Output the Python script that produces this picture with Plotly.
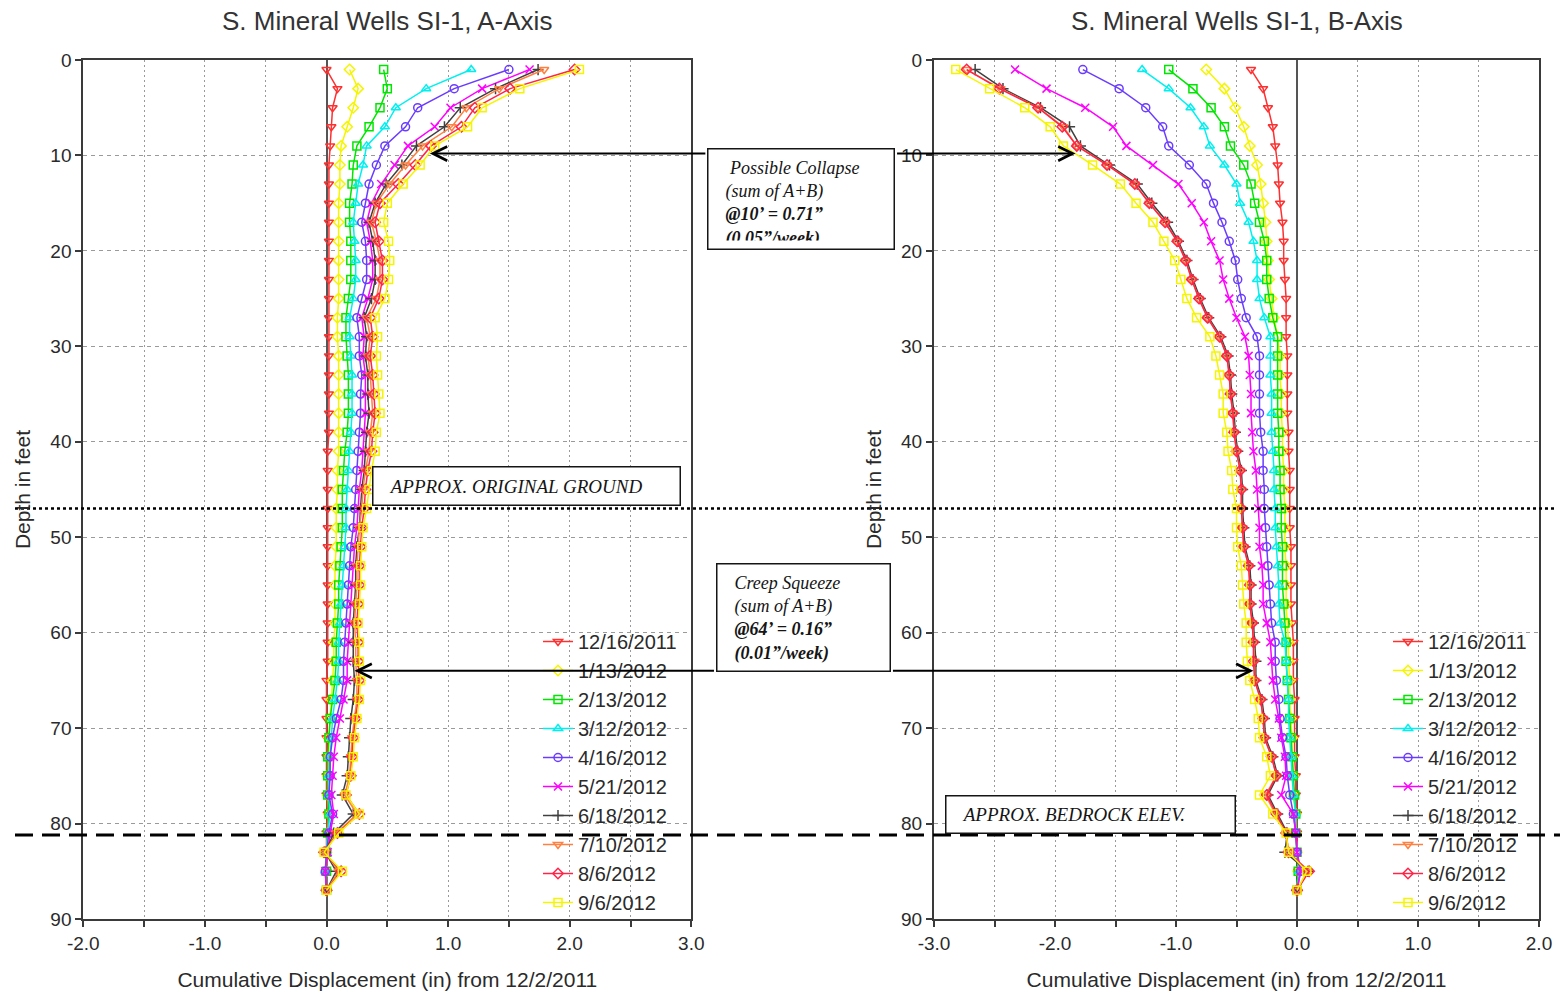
import plotly.graph_objects as go

# ---------------------------------------------------------------------------
# Inclinometer SI-1 (S. Mineral Wells): cumulative displacement vs depth
# ---------------------------------------------------------------------------
DEPTH_FT = [1, 3, 5, 7, 9, 11, 13, 15, 17, 19, 21, 23, 25, 27, 29, 31, 33, 35,
            37, 39, 41, 43, 45, 47, 49, 51, 53, 55, 57, 59, 61, 63, 65, 67, 69,
            71, 73, 75, 77, 79, 81, 83, 85, 87]

SURVEY_DATES = ["12/16/2011", "1/13/2012", "2/13/2012", "3/12/2012", "4/16/2012",
                "5/21/2012", "6/18/2012", "7/10/2012", "8/6/2012", "9/6/2012"]

# A-axis cumulative displacement (in), one list per survey
A_12_16_2011 = [0.00, 0.09, 0.05, 0.04, 0.03, 0.02, 0.02, 0.02, 0.02, 0.02,
                0.02, 0.02, 0.02, 0.02, 0.02, 0.02, 0.02, 0.02, 0.02, 0.02,
                0.01, 0.01, 0.01, 0.01, 0.01, 0.01, 0.01, 0.01, 0.01, 0.01,
                0.01, 0.01, 0.00, 0.00, 0.00, 0.00, 0.00, 0.00, 0.00, 0.01,
                0.00, 0.00, 0.00, 0.00]
A_01_13_2012 = [0.19, 0.26, 0.22, 0.17, 0.12, 0.11, 0.11, 0.10, 0.10, 0.10,
                0.10, 0.10, 0.10, 0.09, 0.09, 0.10, 0.10, 0.10, 0.10, 0.10,
                0.10, 0.09, 0.09, 0.08, 0.08, 0.08, 0.07, 0.07, 0.07, 0.07,
                0.06, 0.06, 0.05, 0.04, 0.03, 0.02, 0.02, 0.01, 0.01, 0.02,
                0.01, 0.00, 0.00, 0.00]
A_02_13_2012 = [0.47, 0.50, 0.44, 0.35, 0.25, 0.22, 0.21, 0.19, 0.19, 0.20,
                0.20, 0.20, 0.18, 0.16, 0.16, 0.17, 0.18, 0.18, 0.18, 0.17,
                0.15, 0.14, 0.13, 0.13, 0.13, 0.12, 0.11, 0.10, 0.10, 0.09,
                0.08, 0.08, 0.07, 0.05, 0.03, 0.02, 0.01, 0.01, 0.01, 0.02,
                0.01, 0.00, 0.00, 0.00]
A_03_12_2012 = [1.19, 0.82, 0.57, 0.48, 0.33, 0.30, 0.26, 0.24, 0.22, 0.23,
                0.24, 0.24, 0.22, 0.19, 0.19, 0.20, 0.21, 0.21, 0.21, 0.20,
                0.19, 0.18, 0.17, 0.16, 0.16, 0.15, 0.14, 0.13, 0.12, 0.11,
                0.10, 0.10, 0.09, 0.07, 0.05, 0.04, 0.03, 0.02, 0.02, 0.03,
                0.01, 0.00, -0.01, 0.00]
A_04_16_2012 = [1.50, 1.05, 0.75, 0.65, 0.48, 0.41, 0.35, 0.32, 0.29, 0.32,
                0.33, 0.33, 0.29, 0.25, 0.27, 0.27, 0.29, 0.28, 0.28, 0.27,
                0.26, 0.25, 0.24, 0.23, 0.22, 0.20, 0.19, 0.18, 0.17, 0.16,
                0.15, 0.14, 0.14, 0.12, 0.08, 0.05, 0.03, 0.03, 0.02, 0.05,
                0.02, 0.00, -0.01, 0.00]
A_05_21_2012 = [1.67, 1.28, 1.02, 0.89, 0.67, 0.56, 0.45, 0.37, 0.33, 0.36,
                0.38, 0.38, 0.34, 0.29, 0.31, 0.30, 0.32, 0.32, 0.32, 0.31,
                0.30, 0.29, 0.27, 0.26, 0.25, 0.23, 0.22, 0.21, 0.20, 0.19,
                0.18, 0.17, 0.17, 0.14, 0.11, 0.08, 0.06, 0.05, 0.04, 0.06,
                0.03, 0.01, -0.01, 0.00]
A_06_18_2012 = [1.74, 1.39, 1.10, 0.97, 0.74, 0.62, 0.49, 0.40, 0.35, 0.38,
                0.40, 0.40, 0.37, 0.31, 0.33, 0.32, 0.34, 0.34, 0.35, 0.33,
                0.32, 0.31, 0.29, 0.28, 0.27, 0.25, 0.24, 0.24, 0.23, 0.22,
                0.22, 0.22, 0.23, 0.22, 0.20, 0.19, 0.18, 0.17, 0.13, 0.22,
                0.06, -0.01, 0.08, 0.00]
A_07_10_2012 = [1.79, 1.42, 1.15, 1.03, 0.79, 0.65, 0.52, 0.41, 0.37, 0.41,
                0.44, 0.44, 0.41, 0.33, 0.36, 0.34, 0.36, 0.37, 0.38, 0.36,
                0.35, 0.32, 0.30, 0.29, 0.27, 0.26, 0.25, 0.25, 0.24, 0.23,
                0.24, 0.24, 0.25, 0.25, 0.23, 0.21, 0.20, 0.19, 0.15, 0.25,
                0.08, -0.01, 0.10, 0.00]
A_08_06_2012 = [2.04, 1.51, 1.22, 1.11, 0.86, 0.73, 0.59, 0.44, 0.40, 0.43,
                0.46, 0.46, 0.43, 0.36, 0.38, 0.36, 0.38, 0.39, 0.40, 0.38,
                0.37, 0.34, 0.32, 0.31, 0.29, 0.28, 0.27, 0.27, 0.26, 0.25,
                0.26, 0.26, 0.27, 0.26, 0.24, 0.22, 0.21, 0.20, 0.16, 0.27,
                0.09, -0.02, 0.12, 0.00]
A_09_06_2012 = [2.08, 1.59, 1.28, 1.16, 0.89, 0.77, 0.63, 0.50, 0.47, 0.51,
                0.52, 0.51, 0.48, 0.40, 0.42, 0.41, 0.42, 0.43, 0.44, 0.41,
                0.40, 0.37, 0.35, 0.33, 0.30, 0.29, 0.28, 0.28, 0.27, 0.26,
                0.27, 0.27, 0.28, 0.27, 0.25, 0.23, 0.22, 0.20, 0.16, 0.27,
                0.10, -0.02, 0.13, 0.00]

# B-axis cumulative displacement (in), one list per survey
B_12_16_2011 = [-0.38, -0.28, -0.24, -0.20, -0.18, -0.16, -0.15, -0.14, -0.12, -0.11,
                -0.11, -0.10, -0.09, -0.09, -0.09, -0.08, -0.08, -0.08, -0.08, -0.07,
                -0.07, -0.06, -0.06, -0.06, -0.06, -0.05, -0.05, -0.05, -0.05, -0.04,
                -0.03, -0.03, -0.03, -0.02, -0.02, -0.02, -0.02, -0.01, -0.01, 0.00,
                0.00, 0.00, 0.01, 0.00]
B_01_13_2012 = [-0.75, -0.60, -0.51, -0.44, -0.39, -0.33, -0.30, -0.28, -0.26, -0.25,
                -0.24, -0.23, -0.21, -0.19, -0.16, -0.14, -0.14, -0.13, -0.13, -0.12,
                -0.12, -0.11, -0.11, -0.10, -0.10, -0.10, -0.09, -0.09, -0.09, -0.08,
                -0.07, -0.07, -0.06, -0.06, -0.05, -0.04, -0.04, -0.03, -0.03, -0.01,
                -0.01, 0.00, 0.01, 0.00]
B_02_13_2012 = [-1.06, -0.86, -0.71, -0.60, -0.55, -0.44, -0.38, -0.35, -0.31, -0.27,
                -0.25, -0.25, -0.23, -0.20, -0.16, -0.16, -0.16, -0.16, -0.16, -0.15,
                -0.15, -0.14, -0.14, -0.13, -0.13, -0.12, -0.12, -0.12, -0.11, -0.10,
                -0.09, -0.09, -0.08, -0.07, -0.06, -0.05, -0.04, -0.03, -0.02, -0.01,
                -0.01, 0.00, 0.01, 0.00]
B_03_12_2012 = [-1.28, -1.06, -0.88, -0.77, -0.72, -0.60, -0.50, -0.47, -0.40, -0.36,
                -0.33, -0.33, -0.31, -0.27, -0.22, -0.22, -0.22, -0.21, -0.21, -0.21,
                -0.20, -0.19, -0.19, -0.18, -0.18, -0.17, -0.16, -0.15, -0.15, -0.14,
                -0.10, -0.09, -0.08, -0.07, -0.07, -0.06, -0.05, -0.04, -0.03, -0.01,
                -0.01, 0.00, 0.02, 0.00]
B_04_16_2012 = [-1.77, -1.47, -1.25, -1.11, -1.06, -0.89, -0.75, -0.69, -0.62, -0.56,
                -0.51, -0.49, -0.46, -0.42, -0.33, -0.31, -0.31, -0.31, -0.31, -0.30,
                -0.28, -0.28, -0.27, -0.27, -0.26, -0.25, -0.24, -0.23, -0.22, -0.21,
                -0.18, -0.18, -0.17, -0.15, -0.14, -0.12, -0.09, -0.08, -0.06, -0.03,
                -0.01, 0.00, 0.03, 0.00]
B_05_21_2012 = [-2.33, -2.07, -1.75, -1.52, -1.41, -1.19, -0.98, -0.87, -0.77, -0.71,
                -0.64, -0.61, -0.56, -0.50, -0.43, -0.40, -0.39, -0.38, -0.38, -0.37,
                -0.36, -0.34, -0.33, -0.32, -0.31, -0.31, -0.29, -0.28, -0.28, -0.25,
                -0.22, -0.21, -0.20, -0.18, -0.15, -0.13, -0.10, -0.09, -0.13, -0.03,
                -0.01, 0.00, 0.03, 0.00]
B_06_18_2012 = [-2.66, -2.43, -2.12, -1.88, -1.79, -1.55, -1.32, -1.20, -1.07, -0.98,
                -0.91, -0.86, -0.80, -0.73, -0.63, -0.57, -0.55, -0.54, -0.52, -0.51,
                -0.49, -0.46, -0.45, -0.45, -0.44, -0.43, -0.39, -0.38, -0.38, -0.36,
                -0.35, -0.34, -0.34, -0.29, -0.27, -0.26, -0.20, -0.16, -0.24, -0.16,
                -0.08, -0.10, 0.09, 0.00]
B_07_10_2012 = [-2.73, -2.45, -2.14, -1.93, -1.82, -1.57, -1.34, -1.22, -1.09, -0.99,
                -0.92, -0.87, -0.81, -0.74, -0.64, -0.58, -0.56, -0.55, -0.53, -0.52,
                -0.50, -0.47, -0.46, -0.46, -0.45, -0.44, -0.40, -0.39, -0.39, -0.37,
                -0.36, -0.35, -0.35, -0.30, -0.28, -0.27, -0.21, -0.17, -0.26, -0.18,
                -0.09, -0.07, 0.09, 0.00]
B_08_06_2012 = [-2.73, -2.46, -2.14, -1.94, -1.82, -1.57, -1.34, -1.22, -1.09, -0.99,
                -0.92, -0.87, -0.81, -0.74, -0.64, -0.58, -0.56, -0.55, -0.53, -0.52,
                -0.50, -0.47, -0.46, -0.46, -0.45, -0.44, -0.40, -0.39, -0.39, -0.37,
                -0.36, -0.36, -0.35, -0.30, -0.28, -0.27, -0.21, -0.17, -0.25, -0.17,
                -0.09, -0.07, 0.10, 0.00]
B_09_06_2012 = [-2.82, -2.54, -2.25, -2.04, -1.93, -1.69, -1.46, -1.33, -1.19, -1.10,
                -1.01, -0.96, -0.91, -0.83, -0.72, -0.67, -0.64, -0.61, -0.61, -0.58,
                -0.57, -0.54, -0.53, -0.50, -0.50, -0.49, -0.46, -0.45, -0.44, -0.42,
                -0.42, -0.41, -0.39, -0.35, -0.32, -0.31, -0.25, -0.22, -0.31, -0.20,
                -0.09, -0.07, 0.08, 0.00]

A_AXIS = [A_12_16_2011, A_01_13_2012, A_02_13_2012, A_03_12_2012, A_04_16_2012,
          A_05_21_2012, A_06_18_2012, A_07_10_2012, A_08_06_2012, A_09_06_2012]
B_AXIS = [B_12_16_2011, B_01_13_2012, B_02_13_2012, B_03_12_2012, B_04_16_2012,
          B_05_21_2012, B_06_18_2012, B_07_10_2012, B_08_06_2012, B_09_06_2012]

# Axis ticks (every 0.5 in, labelled every 1.0 in) and depth ticks
A_TICKS = [-2.0, -1.5, -1.0, -0.5, 0.0, 0.5, 1.0, 1.5, 2.0, 2.5, 3.0]
A_TICK_LABELS = ["-2.0", "", "-1.0", "", "0.0", "", "1.0", "", "2.0", "", "3.0"]
B_TICKS = [-3.0, -2.5, -2.0, -1.5, -1.0, -0.5, 0.0, 0.5, 1.0, 1.5, 2.0]
B_TICK_LABELS = ["-3.0", "", "-2.0", "", "-1.0", "", "0.0", "", "1.0", "", "2.0"]
DEPTH_TICKS = [0, 10, 20, 30, 40, 50, 60, 70, 80, 90]

# Reference depths (ft)
ORIGINAL_GROUND_FT = 47.0
BEDROCK_FT = 81.2
COLLAPSE_FT = 9.8
SQUEEZE_FT = 64.0

# Series styling
COLORS = ["#ff3030", "#f5f500", "#00e600", "#00f0f0", "#6a3cff",
          "#ff00ff", "#404040", "#ff8040", "#ff2448", "#f5f500"]
SYMBOLS = ["triangle-down-open", "diamond-open", "square-open", "triangle-up-open",
           "circle-open", "x-thin", "cross-thin", "triangle-down-open",
           "diamond-open", "square-open"]

W, H = 1563, 993
SANS = "Liberation Sans, Arial, sans-serif"
SERIF = "Liberation Serif, Times New Roman, serif"
INK = "#2a2a2a"


def px_x(p):
    return p / W


def px_y(p):
    return 1 - p / H


fig = go.Figure()

for i, date in enumerate(SURVEY_DATES):
    style = dict(
        mode="lines+markers",
        line=dict(color=COLORS[i], width=1.5),
        marker=dict(symbol=SYMBOLS[i], size=8, color=COLORS[i],
                    line=dict(color=COLORS[i], width=1.5)),
        name=date,
    )
    fig.add_trace(go.Scatter(x=A_AXIS[i], y=DEPTH_FT, xaxis="x", yaxis="y",
                             legend="legend", **style))
    fig.add_trace(go.Scatter(x=B_AXIS[i], y=DEPTH_FT, xaxis="x2", yaxis="y2",
                             legend="legend2", **style))

x_common = dict(
    showgrid=True, gridcolor="#9a9a9a", gridwidth=1.3, griddash="2px,3px",
    showline=True, linecolor="#3a3a3a", linewidth=2, mirror=True,
    ticks="outside", ticklen=6, tickwidth=1.5, tickcolor="#3a3a3a",
    zeroline=True, zerolinecolor="#555555", zerolinewidth=2,
    automargin=False,
    tickfont=dict(family=SANS, size=19, color=INK),
    title=dict(text="Cumulative Displacement (in) from 12/2/2011",
               font=dict(family=SANS, size=21, color=INK), standoff=20),
)
y_common = dict(
    range=[90, 0], tickvals=DEPTH_TICKS,
    showgrid=True, gridcolor="#9a9a9a", gridwidth=1.3, griddash="4px,4px",
    showline=True, linecolor="#3a3a3a", linewidth=2, mirror=True,
    ticks="outside", ticklen=6, tickwidth=1.5, tickcolor="#3a3a3a",
    zeroline=False, automargin=False,
    tickfont=dict(family=SANS, size=19, color=INK),
    title=dict(text="Depth in feet", font=dict(family=SANS, size=21, color=INK),
               standoff=14),
    domain=[px_y(919), px_y(60)],
)

fig.update_layout(
    width=W, height=H,
    margin=dict(l=0, r=0, t=0, b=0, autoexpand=False),
    paper_bgcolor="white", plot_bgcolor="white",
    font=dict(family=SANS, color=INK),
    xaxis=dict(domain=[px_x(83.3), px_x(691.3)], range=[-2, 3],
               tickvals=A_TICKS, ticktext=A_TICK_LABELS, anchor="y", **x_common),
    yaxis=dict(anchor="x", **y_common),
    xaxis2=dict(domain=[px_x(934), px_x(1539)], range=[-3, 2],
                tickvals=B_TICKS, ticktext=B_TICK_LABELS, anchor="y2", **x_common),
    yaxis2=dict(anchor="x2", **y_common),
    legend=dict(x=px_x(538), y=px_y(622), xanchor="left", yanchor="top",
                bgcolor="rgba(0,0,0,0)", font=dict(family=SANS, size=20, color=INK),
                itemwidth=30, tracegroupgap=0),
    legend2=dict(x=px_x(1388), y=px_y(622), xanchor="left", yanchor="top",
                 bgcolor="rgba(0,0,0,0)", font=dict(family=SANS, size=20, color=INK),
                 itemwidth=30, tracegroupgap=0),
    showlegend=True,
)

# Reference elevations spanning both panels
fig.add_shape(type="line", xref="paper", yref="y", x0=px_x(15), x1=px_x(1556),
              y0=ORIGINAL_GROUND_FT, y1=ORIGINAL_GROUND_FT,
              line=dict(color="black", width=2.5, dash="dot"))
fig.add_shape(type="line", xref="paper", yref="y", x0=px_x(15), x1=px_x(1560),
              y0=BEDROCK_FT, y1=BEDROCK_FT,
              line=dict(color="black", width=3, dash="18px,9px"))

# Panel titles
for cx, label in [(387, "S. Mineral Wells SI-1, A-Axis"),
                  (1237, "S. Mineral Wells SI-1, B-Axis")]:
    fig.add_annotation(x=px_x(cx), y=px_y(21), xref="paper", yref="paper",
                       xanchor="center", yanchor="middle", showarrow=False,
                       text=label, font=dict(family=SANS, size=26, color="#333333"))

# Arrows pointing at the two zones of movement
arrow = dict(text="", showarrow=True, arrowhead=5, arrowsize=1.4, arrowwidth=2,
             arrowcolor="black", ay=0)
fig.add_annotation(x=0.85, y=COLLAPSE_FT, xref="x", yref="y", ax=277, **arrow)
fig.add_annotation(x=-1.83, y=COLLAPSE_FT, xref="x2", yref="y2", ax=-180, **arrow)
fig.add_annotation(x=0.23, y=SQUEEZE_FT, xref="x", yref="y", ax=361, **arrow)
fig.add_annotation(x=-0.36, y=SQUEEZE_FT, xref="x2", yref="y2", ax=-362, **arrow)


def note_box(left, top, right, bottom, text, size=18, pad=9, valign="top"):
    bw = 1.5
    fig.add_annotation(
        x=px_x(left), y=px_y(top), xref="paper", yref="paper",
        xanchor="left", yanchor="top", showarrow=False,
        width=(right - left) - 2 * (bw + pad), height=(bottom - top) - 2 * (bw + pad),
        align="left", valign=valign, text=text,
        font=dict(family=SERIF, size=size, color="#151515"),
        bgcolor="white", bordercolor="#151515", borderwidth=bw, borderpad=pad,
    )


NB = "\u00a0"
note_box(707, 148, 895, 250,
         f"{NB*3}<i>Possible Collapse</i><br>{NB*2}<i>(sum of A+B)</i><br>"
         f"{NB*2}<b><i>@10’ = 0.71”</i></b><br>{NB*2}<b><i>(0.05”/week)</i></b>", pad=8)
note_box(716, 563, 891, 672,
         f"{NB*2}<i>Creep Squeeze</i><br>{NB*2}<i>(sum of A+B)</i><br>"
         f"{NB*2}<b><i>@64’ = 0.16”</i></b><br>{NB*2}<b><i>(0.01”/week)</i></b>", pad=8)
note_box(372, 466, 681, 506, f"{NB*3}<i>APPROX. ORIGINAL GROUND</i>",
         size=19, pad=3, valign="middle")
note_box(945, 795, 1236, 834, f"{NB*3}<i>APPROX. BEDROCK ELEV.</i>",
         size=19, pad=3, valign="middle")

fig.write_html("out.html")
